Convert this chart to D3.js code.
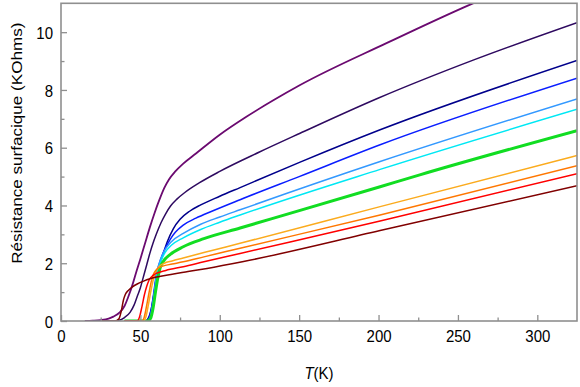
<!DOCTYPE html>
<html>
<head>
<meta charset="utf-8">
<script src="https://cdn.jsdelivr.net/npm/d3@7"></script>
<style>
  html, body { margin: 0; padding: 0; background: #fff; }
  svg text { font-family: "Liberation Sans", Arial, sans-serif; fill: #000; }
</style>
</head>
<body>
<svg id="chart" width="580" height="387"></svg>
<script>
// ---- Data (T in K, R in KOhms) ----
const purple = [[15,0],[20,0.01],[25,0.03],[30,0.08],[33,0.15],[37,0.3],[40,0.52],[42.4,0.84],[45,1.25],[47.7,1.75],[50,2.15],[53,2.7],[56,3.25],[59,3.75],[62,4.2],[65,4.6],[68,4.9],[72,5.18],[77,5.45],[85,5.8],[100,6.45],[117,7.08],[134,7.65],[150.6,8.17],[205,9.62],[259.5,11.0],[265,11.13]];
const indigo = [[20,0],[33,0],[36,0.02],[40,0.12],[43.5,0.3],[46,0.55],[48,0.85],[50,1.15],[52,1.55],[54,1.95],[56,2.35],[58,2.7],[60,3.0],[63,3.4],[66,3.72],[69,3.98],[73,4.22],[78,4.45],[87,4.78],[100,5.18],[125,5.85],[150.6,6.5],[200,7.72],[260,9.04],[325,10.33]];
const navy = [[40,0],[53,0],[55,0.1],[57,0.45],[58.7,1.0],[60.3,1.6],[62.4,2.0],[64.5,2.35],[67,2.75],[70.8,3.2],[75,3.52],[81,3.8],[88,4.02],[100,4.32],[112.8,4.62],[150.6,5.5],[201,6.62],[325,9.02]];
const blue = [[40,0],[53.5,0],[55.5,0.1],[57,0.45],[58.5,1.0],[60,1.6],[62,2.0],[64.5,2.38],[68.7,2.82],[72,3.07],[77,3.32],[85,3.56],[95,3.8],[112.8,4.2],[150,5.0],[201,6.1],[325,8.41]];
const dodger = [[40,0],[54,0],[56,0.1],[57.5,0.5],[59,1.1],[60.5,1.7],[62.5,2.1],[65,2.42],[69,2.72],[77,3.03],[88,3.35],[100,3.6],[112.8,3.85],[201,5.52],[325,7.69]];
const cyan = [[40,0],[54.5,0],[56.5,0.12],[58,0.55],[59.5,1.15],[61,1.7],[63,2.08],[65.5,2.37],[69.5,2.62],[77,2.88],[88,3.17],[100,3.42],[112.8,3.67],[201,5.25],[325,7.33]];
const green = [[40,0],[54.5,0],[56.5,0.1],[58,0.45],[59.5,1.0],[61,1.5],[62.5,1.85],[64.5,2.07],[68.7,2.3],[77,2.57],[90,2.85],[112.8,3.22],[150.6,3.83],[201,4.65],[226,5.06],[325,6.59]];
const orange = [[40,0],[52,0],[53.5,0.15],[55,0.55],[56.5,1.0],[58,1.4],[59.5,1.68],[61.5,1.87],[65,2.0],[70,2.08],[77,2.18],[90,2.37],[112.8,2.69],[201,3.96],[325,5.73]];
const darkOrange = [[40,0],[51,0],[52.5,0.15],[54,0.55],[55.5,1.0],[57,1.4],[58.5,1.65],[60.5,1.8],[64,1.9],[70,1.97],[77,2.05],[90,2.22],[112.8,2.52],[201,3.67],[325,5.38]];
const red = [[40,0],[48,0],[49.5,0.15],[51,0.5],[52.5,0.9],[54,1.2],[55.5,1.42],[58,1.58],[61,1.67],[66,1.75],[77,1.88],[90,2.05],[112.8,2.34],[201,3.46],[325,5.1]];
const darkRed = [[25,0],[34,0],[36.5,0.08],[38,0.35],[39.3,0.72],[40.5,0.92],[42.4,1.06],[45,1.18],[48,1.28],[52,1.38],[56,1.46],[62,1.54],[70,1.62],[80,1.71],[92,1.82],[115,2.06],[201,3.13],[325,4.68]];

const seriesList = [purple, indigo, navy, blue, dodger, cyan, green, orange, darkOrange, red, darkRed];
const seriesColors = ["#6b0a70", "#2e0a60", "#00008b", "#0a1eff", "#3399ff", "#00e8f4", "#11dd22", "#fbab1e", "#ff7700", "#ff0000", "#800000"];
const seriesWidths = [1.8, 1.5, 1.5, 1.5, 1.5, 1.5, 3, 1.5, 1.5, 1.5, 1.5];

const xMajorTicks = [0, 50, 100, 150, 200, 250, 300];
const xMinorTicks = [25, 75, 125, 175, 225, 275];
const yMajorTicks = [0, 2, 4, 6, 8, 10];
const yMinorTicks = [1, 3, 5, 7, 9];
const xTitleItalic = "T";
const xTitleRest = "(K)";
const yTitle = "Résistance surfacique (KOhms)";

// ---- Layout ----
const svg = d3.select("#chart");
const L = 61, R = 577, TOP = 3.3, B = 321;
const x = d3.scaleLinear().domain([0, 325]).range([L, R]);
const y = d3.scaleLinear().domain([0, 11]).range([B, TOP]);
const axisColor = "#8f8f8f";
const SY = 1.14; // vertical stretch of text
const FS = 15;

svg.append("defs").append("clipPath").attr("id", "clip")
  .append("rect").attr("x", L).attr("y", TOP).attr("width", R - L).attr("height", B - TOP);

// curves
const line = d3.line().x(d => x(d[0])).y(d => y(d[1])).curve(d3.curveMonotoneX);
const g = svg.append("g").attr("clip-path", "url(#clip)");
seriesList.forEach((s, i) => {
  g.append("path").datum(s).attr("d", line)
    .attr("fill", "none").attr("stroke", seriesColors[i])
    .attr("stroke-width", seriesWidths[i]).attr("stroke-linejoin", "round");
});

// frame
svg.append("rect").attr("x", L).attr("y", TOP).attr("width", R - L).attr("height", B - TOP)
  .attr("fill", "none").attr("stroke", axisColor).attr("stroke-width", 1.6);

// x axis ticks (inward)
const xAxis = d3.axisBottom(x).tickValues(xMajorTicks).tickSize(-6).tickFormat(d3.format("d"));
const gx = svg.append("g").attr("transform", `translate(0,${B})`).call(xAxis);
gx.select(".domain").remove();
gx.selectAll(".tick line").attr("stroke", axisColor).attr("stroke-width", 1.3);
gx.selectAll(".tick text").attr("font-size", FS).attr("fill", "#000")
  .attr("font-family", "Liberation Sans, Arial, sans-serif")
  .attr("transform", `scale(1,${SY})`).attr("y", 9 / SY).attr("dy", "0.71em");
const gxm = svg.append("g").attr("transform", `translate(0,${B})`)
  .call(d3.axisBottom(x).tickValues(xMinorTicks).tickSize(-3.5).tickFormat(""));
gxm.select(".domain").remove();
gxm.selectAll(".tick line").attr("stroke", axisColor).attr("stroke-width", 1.3);

// y axis ticks
const yAxis = d3.axisLeft(y).tickValues(yMajorTicks).tickSize(-6).tickFormat(d3.format("d"));
const gy = svg.append("g").attr("transform", `translate(${L},0)`).call(yAxis);
gy.select(".domain").remove();
gy.selectAll(".tick line").attr("stroke", axisColor).attr("stroke-width", 1.3);
gy.selectAll(".tick text").attr("font-size", FS).attr("fill", "#000")
  .attr("font-family", "Liberation Sans, Arial, sans-serif")
  .attr("x", -8).attr("y", 0).attr("dy", "0.36em")
  .attr("transform", `scale(1,${SY})`);
const gym = svg.append("g").attr("transform", `translate(${L},0)`)
  .call(d3.axisLeft(y).tickValues(yMinorTicks).tickSize(-3.5).tickFormat(""));
gym.select(".domain").remove();
gym.selectAll(".tick line").attr("stroke", axisColor).attr("stroke-width", 1.3);

// titles
const xt = svg.append("text").attr("text-anchor", "middle").attr("font-size", FS)
  .attr("transform", `translate(${(L + R) / 2},379) scale(1,${SY})`);
xt.append("tspan").attr("font-style", "italic").text(xTitleItalic);
xt.append("tspan").text(xTitleRest);

svg.append("text").attr("text-anchor", "middle").attr("font-size", FS)
  .attr("transform", `translate(22,${(TOP + B) / 2 - 19}) scale(1,${SY}) rotate(-90)`)
  .text(yTitle);
</script>
</body>
</html>
